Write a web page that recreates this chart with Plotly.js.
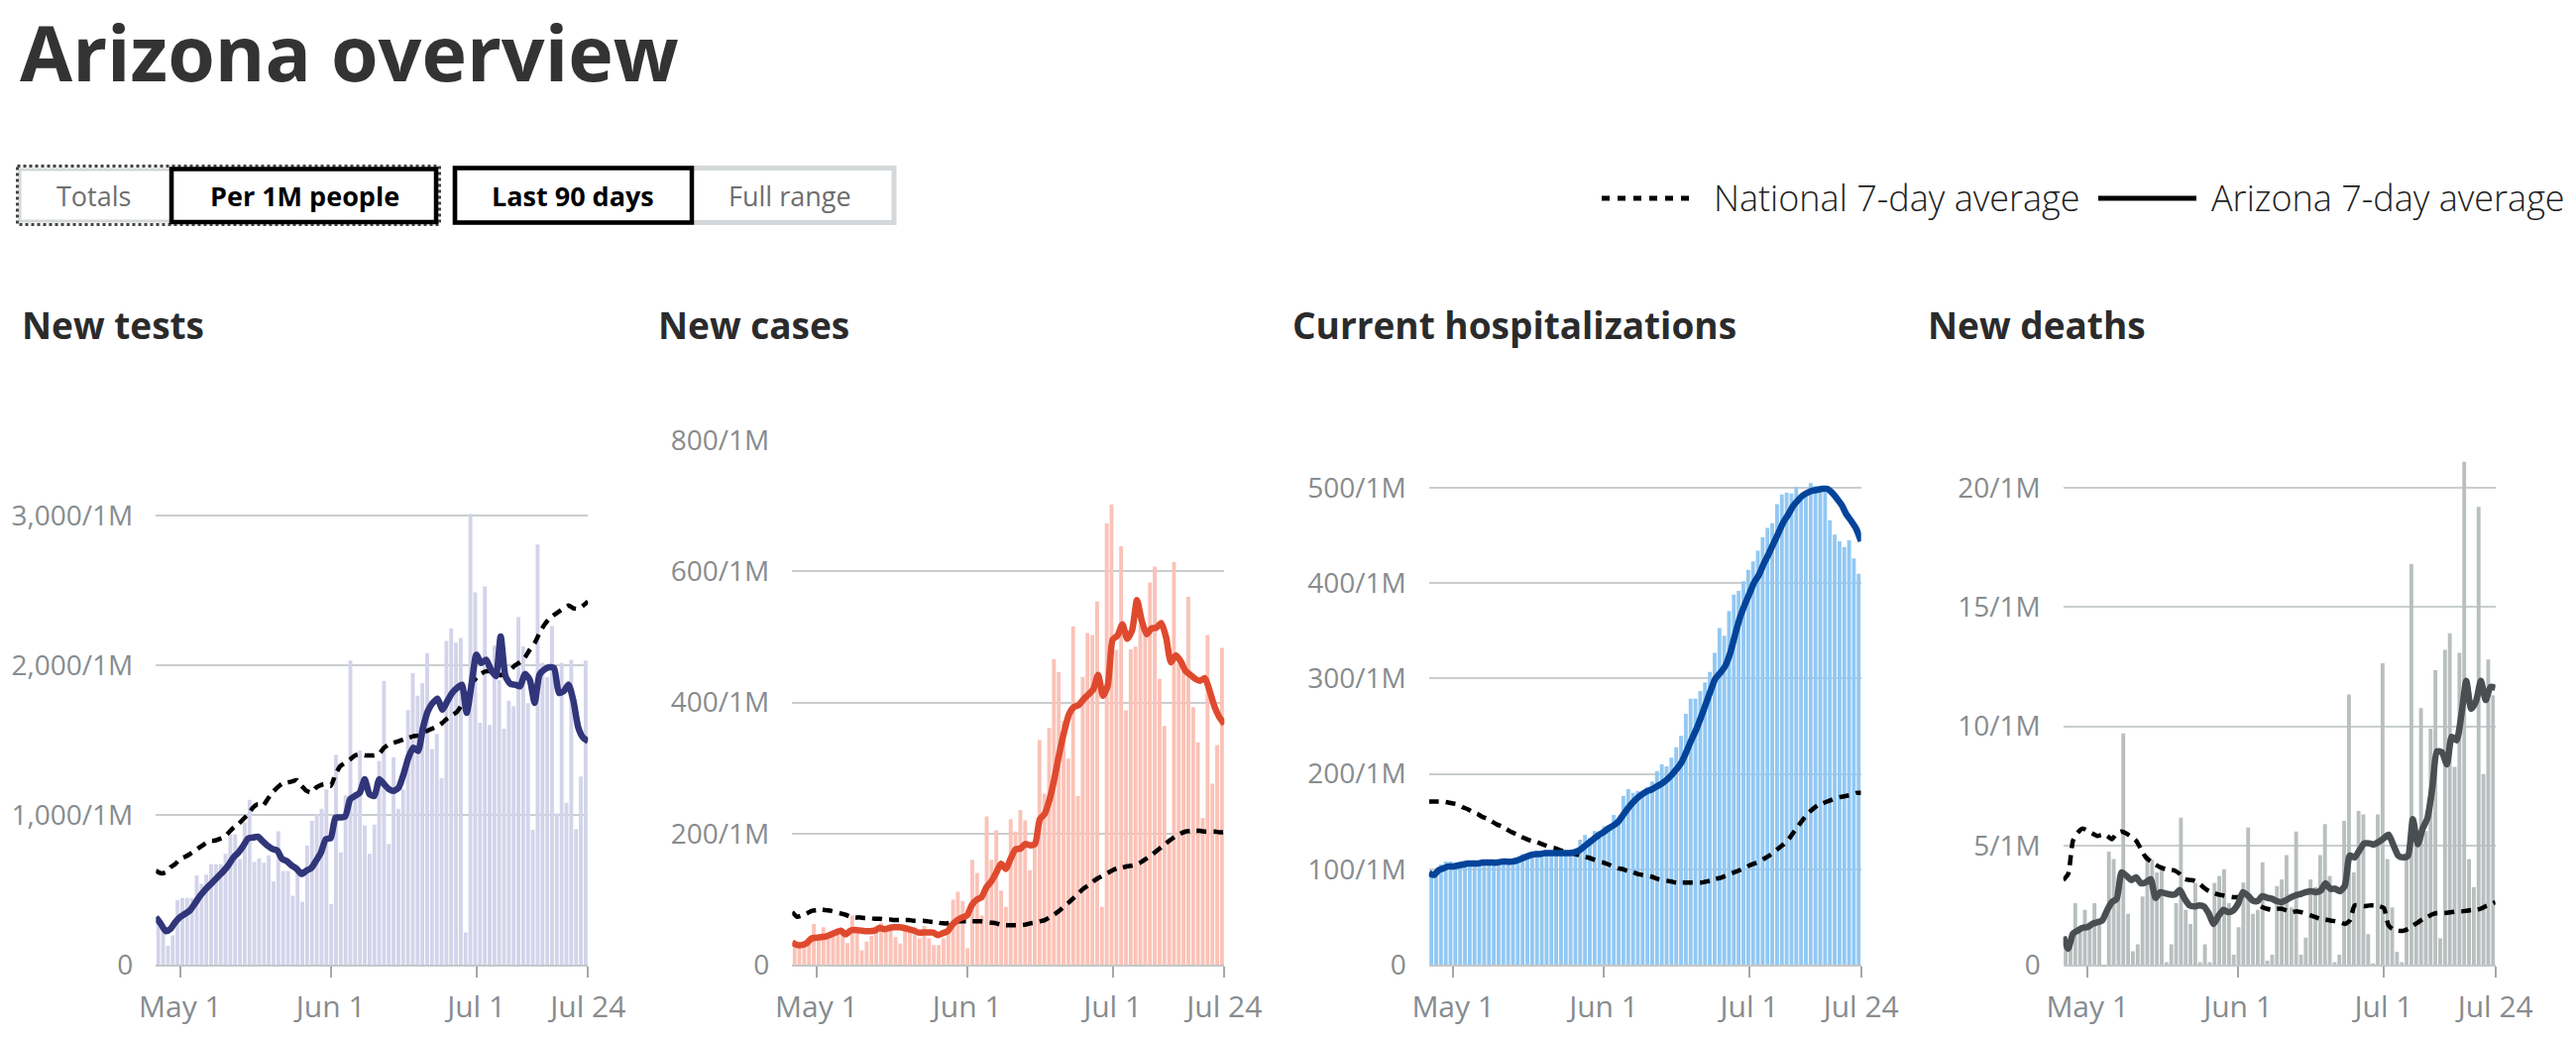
<!DOCTYPE html>
<html>
<head>
<meta charset="utf-8">
<script src="https://cdn.plot.ly/plotly-3.0.1.min.js"></script>
<style>
  html, body { margin: 0; padding: 0; background: #ffffff; }
  #chart { width: 2599px; height: 1046px; }
</style>
</head>
<body>
<div id="chart"></div>
<script>
// ---------- data ----------
const startDate = '2020-04-26';
const endDate = '2020-07-24';
const dayCount = 90;

const chartTitles = ['New tests', 'New cases', 'Current hospitalizations', 'New deaths'];

const xTickVals = ['2020-05-01', '2020-06-01', '2020-07-01', '2020-07-24'];
const xTickText = ['May 1', 'Jun 1', 'Jul 1', 'Jul 24'];

const testsTickVals = [0, 1000, 2000, 3000];
const testsTickText = ['0', '1,000/1M', '2,000/1M', '3,000/1M'];
const casesTickVals = [0, 200, 400, 600, 800];
const casesTickText = ['0', '200/1M', '400/1M', '600/1M', '800/1M'];
const hospTickVals = [0, 100, 200, 300, 400, 500];
const hospTickText = ['0', '100/1M', '200/1M', '300/1M', '400/1M', '500/1M'];
const deathsTickVals = [0, 5, 10, 15, 20];
const deathsTickText = ['0', '5/1M', '10/1M', '15/1M', '20/1M'];

const testsBars = [310, 230, 125, 195, 430, 445, 445, 445, 595, 540,
  600, 670, 670, 670, 740, 870, 870, 705, 950, 1100,
  685, 710, 680, 730, 555, 890, 625, 625, 460, 630,
  420, 795, 960, 1005, 1040, 1170, 405, 1400, 750, 1130,
  2030, 1150, 1430, 930, 740, 935, 1360, 1895, 805, 1385,
  1040, 1170, 1700, 1945, 1795, 1880, 2080, 1440, 1540, 1245,
  2160, 2245, 2150, 2180, 215, 3010, 2485, 1615, 2525, 1600,
  2130, 1900, 1575, 1760, 1725, 2320, 2125, 1745, 900, 2805,
  2015, 1920, 2260, 1010, 2015, 1080, 2035, 905, 1255, 2030];
const testsAZ = [317, 273, 224, 239, 284, 317, 339, 361, 406, 455,
  494, 528, 561, 594, 627, 667, 716, 749, 794, 843,
  849, 854, 823, 794, 772, 761, 705, 690, 661, 639,
  605, 627, 645, 694, 749, 838, 845, 982, 982, 990,
  1104, 1126, 1149, 1237, 1137, 1126, 1237, 1204, 1171, 1160,
  1182, 1271, 1381, 1448, 1426, 1581, 1692, 1747, 1776, 1703,
  1758, 1814, 1847, 1869, 1681, 1869, 2069, 2013, 2035, 1969,
  1925, 2191, 1925, 1874, 1869, 1858, 1940, 1902, 1747, 1936,
  1969, 1985, 1980, 1814, 1825, 1869, 1758, 1581, 1514, 1492];
const testsUS = [627, 610, 616, 650, 672, 705, 720, 738, 760, 783,
  805, 827, 827, 838, 849, 882, 915, 938, 971, 1004,
  1049, 1071, 1060, 1104, 1149, 1182, 1208, 1215, 1222, 1231,
  1193, 1160, 1149, 1182, 1199, 1204, 1193, 1271, 1326, 1348,
  1370, 1397, 1404, 1397, 1397, 1397, 1408, 1448, 1470, 1481,
  1492, 1503, 1514, 1525, 1530, 1548, 1563, 1577, 1592, 1614,
  1643, 1665, 1687, 1736, 1814, 1880, 1914, 1942, 1958, 1958,
  1947, 1931, 1953, 1969, 1998, 2020, 2051, 2102, 2146, 2213,
  2268, 2308, 2335, 2357, 2379, 2397, 2379, 2375, 2397, 2424];

const casesBars = [32, 29, 30, 36, 62, 40, 57, 45, 47, 50,
  53, 33, 75, 50, 22, 35, 44, 50, 64, 58,
  55, 42, 32, 53, 50, 46, 40, 59, 40, 30,
  30, 40, 62, 99, 111, 97, 25, 160, 140, 75,
  226, 160, 205, 113, 88, 222, 203, 236, 220, 144,
  184, 343, 261, 361, 466, 446, 372, 314, 516, 257,
  439, 506, 503, 554, 88, 673, 702, 480, 638, 388,
  481, 485, 518, 510, 583, 607, 436, 364, 193, 614,
  470, 450, 561, 393, 339, 224, 503, 276, 335, 483];
const casesAZ = [34, 30, 30, 33, 40, 41, 42, 43, 46, 49,
  52, 46, 52, 53, 52, 51, 51, 52, 56, 54,
  56, 57, 57, 56, 54, 52, 49, 49, 49, 49,
  45, 48, 51, 61, 68, 72, 75, 91, 99, 103,
  118, 127, 140, 154, 146, 162, 176, 177, 184, 182,
  184, 222, 230, 252, 284, 322, 355, 382, 393, 396,
  405, 412, 420, 442, 410, 426, 496, 502, 519, 497,
  510, 556, 524, 504, 513, 514, 521, 499, 461, 472,
  463, 448, 442, 436, 433, 437, 417, 393, 377, 367];
const casesUS = [80, 73, 75, 78, 82, 83, 84, 83, 82, 80,
  78, 76, 73, 72, 72, 71, 71, 70, 70, 69,
  69, 68, 68, 68, 68, 67, 67, 67, 66, 65,
  64, 63, 63, 65, 66, 66, 66, 66, 66, 66,
  65, 64, 63, 61, 60, 60, 60, 60, 61, 63,
  64, 66, 68, 72, 77, 82, 89, 95, 102, 109,
  116, 121, 127, 132, 136, 140, 144, 147, 148, 150,
  151, 153, 157, 162, 167, 173, 179, 185, 191, 196,
  200, 203, 204, 204, 204, 203, 203, 203, 202, 202];

const hospBars = [96, 98, 105, 108, 108, 105, 106, 107, 108, 108,
  108, 110, 109, 109, 108, 110, 108, 110, 112, 116,
  114, 116, 118, 117, 118, 117, 117, 117, 117, 117,
  119, 131, 136, 133, 140, 140, 145, 145, 157, 154,
  177, 184, 180, 182, 180, 186, 192, 203, 210, 208,
  217, 228, 240, 263, 279, 279, 287, 296, 307, 327,
  353, 345, 371, 388, 392, 402, 414, 423, 434, 448,
  458, 463, 483, 493, 495, 494, 501, 492, 494, 505,
  502, 500, 499, 466, 451, 444, 438, 445, 426, 410];
const hospAZ = [96, 94, 99, 101, 103, 103, 104, 105, 106, 106,
  106, 107, 107, 107, 107, 108, 108, 108, 109, 111,
  113, 115, 116, 116, 117, 117, 117, 117, 117, 117,
  118, 120, 124, 128, 132, 136, 139, 143, 146, 150,
  157, 164, 170, 175, 179, 182, 184, 187, 190, 194,
  199, 205, 212, 223, 235, 246, 259, 273, 287, 300,
  306, 313, 326, 345, 363, 377, 389, 401, 409, 421,
  431, 442, 453, 464, 472, 481, 487, 492, 495, 497,
  498, 499, 499, 495, 489, 482, 472, 465, 457, 444];
const hospUS = [171, 171, 171, 171, 170, 169, 168, 165, 163, 160,
  158, 155, 153, 150, 147, 145, 142, 139, 137, 134,
  132, 130, 129, 127, 125, 123, 122, 120, 119, 118,
  116, 115, 113, 112, 110, 108, 107, 105, 103, 101,
  100, 98, 97, 95, 94, 93, 92, 90, 89, 88,
  87, 86, 86, 86, 86, 86, 86, 87, 88, 90,
  91, 93, 95, 97, 99, 101, 104, 106, 108, 111,
  114, 118, 122, 126, 131, 138, 145, 152, 158, 163,
  167, 169, 171, 173, 175, 176, 177, 178, 180, 180];

const deathsBars = [1.2, 0.9, 2.58, 1.5, 2.3, 1.7, 2.58, 1.9, 0, 4.74,
  4.43, 3.5, 9.7, 2.13, 0.56, 0.85, 2.86, 4.6, 4.4, 3.87,
  3.97, 0.1, 0.85, 2.58, 6.17, 2.3, 1.7, 3.43, 0.1, 0.85,
  0.1, 3.43, 3.72, 4.0, 2.58, 0.42, 1.57, 3.44, 5.75, 2.13,
  2.3, 4.29, 0.17, 0.42, 3.3, 3.58, 4.6, 2.4, 5.58, 0.42,
  1.13, 3.58, 3.25, 4.6, 5.9, 3.72, 0.1, 0.42, 6.03, 11.33,
  3.87, 6.45, 6.3, 1.28, 0.05, 6.3, 12.64, 4.43, 2.4, 0.54,
  0.1, 4.6, 16.8, 5.0, 10.76, 5.6, 9.9, 12.35, 1.1, 13.2,
  13.9, 8.3, 13.08, 21.1, 4.43, 3.25, 19.2, 8.0, 12.8, 11.3];
const deathsAZ = [1.16, 0.67, 1.3, 1.43, 1.55, 1.57, 1.71, 1.78, 1.85, 2.27,
  2.62, 2.76, 3.87, 3.73, 3.55, 3.66, 3.41, 3.45, 3.59, 2.8,
  3.04, 2.99, 2.94, 2.94, 3.13, 2.76, 2.48, 2.44, 2.48, 2.44,
  2.13, 1.71, 2.06, 2.3, 2.2, 2.27, 2.55, 3.04, 2.9, 2.69,
  2.66, 2.87, 2.8, 2.76, 2.66, 2.62, 2.72, 2.83, 2.92, 2.97,
  3.04, 3.08, 3.04, 3.1, 3.41, 3.18, 3.18, 3.08, 3.31, 4.57,
  4.5, 4.8, 5.09, 5.09, 5.04, 5.16, 5.3, 5.45, 5.01, 4.57,
  4.5, 4.57, 6.1, 5.05, 5.7, 6.15, 7.4, 8.95, 8.9, 8.4,
  9.56, 9.41, 10.5, 11.9, 10.73, 11.05, 11.9, 11.1, 11.65, 11.61];
const deathsUS = [3.55, 3.8, 5.2, 5.54, 5.71, 5.61, 5.5, 5.4, 5.45, 5.4,
  5.26, 5.5, 5.58, 5.5, 5.36, 5.2, 4.85, 4.5, 4.33, 4.19,
  4.08, 4.01, 3.98, 3.94, 3.8, 3.59, 3.55, 3.52, 3.41, 3.22,
  3.08, 3.01, 2.94, 2.9, 2.86, 2.83, 2.83, 2.92, 2.9, 2.72,
  2.55, 2.41, 2.34, 2.3, 2.34, 2.34, 2.27, 2.2, 2.24, 2.2,
  2.13, 2.06, 1.99, 1.92, 1.89, 1.85, 1.82, 1.78, 1.71, 1.85,
  2.48, 2.48, 2.45, 2.48, 2.48, 2.45, 2.38, 1.64, 1.47, 1.42,
  1.42, 1.5, 1.64, 1.76, 1.91, 2.0, 2.11, 2.16, 2.16, 2.17,
  2.2, 2.23, 2.23, 2.26, 2.29, 2.29, 2.35, 2.45, 2.52, 2.62];

const legendLabels = ['National 7-day average', 'Arizona 7-day average'];
const buttonLabels = ['Totals', 'Per 1M people', 'Last 90 days', 'Full range'];

// ---------- build ----------
const dates = [];
{
  const d0 = new Date(startDate + 'T00:00:00Z');
  for (let i = 0; i < dayCount; i++) {
    const d = new Date(d0.getTime() + i * 86400000);
    dates.push(d.toISOString().slice(0, 10));
  }
}

const W = 2599, H = 1046;
const px = v => v / W;
const py = v => 1 - v / H;
const FONT = '"Open Sans", "Noto Sans", sans-serif';

const charts = [
  { bars: testsBars, az: testsAZ, us: testsUS, barColor: '#d3d4ea', lineColor: '#31357a',
    yTop: 3501, tv: testsTickVals, tt: testsTickText },
  { bars: casesBars, az: casesAZ, us: casesUS, barColor: '#fbc2b7', lineColor: '#df4a2e',
    yTop: 800, tv: casesTickVals, tt: casesTickText },
  { bars: hospBars, az: hospAZ, us: hospUS, barColor: '#92c8f3', lineColor: '#03449a',
    yTop: 550, tv: hospTickVals, tt: hospTickText },
  { bars: deathsBars, az: deathsAZ, us: deathsUS, barColor: '#b9bfbf', lineColor: '#4a4e50',
    yTop: 22.0, tv: deathsTickVals, tt: deathsTickText }
];
const plotLefts = [157.3, 799.3, 1441.7, 2081.7];
const plotWidth = 436;
const plotTopPx = 444, plotBottomPx = 973;
const titleLefts = [20, 662, 1302, 1943];

const suf = n => (n === 1 ? '' : String(n));
const yTickFont = { family: FONT, size: 28, color: '#878c8f' };
const xTickFont = { family: FONT, size: 30, color: '#878c8f' };

const data = [];
const layout = {
  width: W, height: H,
  margin: { l: 0, r: 0, t: 0, b: 0, pad: 0 },
  paper_bgcolor: '#ffffff', plot_bgcolor: 'rgba(0,0,0,0)',
  showlegend: false, hovermode: false,
  bargap: 0.2,
  font: { family: FONT },
  annotations: [], shapes: []
};

charts.forEach((c, k) => {
  const bx = 2 * k + 1, lx = 2 * k + 2, yy = k + 1;
  layout['xaxis' + suf(bx)] = {
    domain: [px(plotLefts[k]), px(plotLefts[k] + plotWidth)],
    anchor: 'y' + suf(yy), type: 'category', range: [-0.5, dayCount - 0.5],
    showgrid: false, showticklabels: false, ticks: '', zeroline: false, showline: false, fixedrange: true
  };
  layout['xaxis' + suf(lx)] = {
    overlaying: 'x' + suf(bx), anchor: 'y' + suf(yy), type: 'date', side: 'bottom',
    range: [startDate, endDate], tickmode: 'array', tickvals: xTickVals, ticktext: xTickText,
    ticks: 'outside', ticklen: 11, tickwidth: 2, tickcolor: '#a3a8ab',
    showline: true, linecolor: '#c3c7c9', linewidth: 2,
    showgrid: false, zeroline: false, tickfont: xTickFont, ticklabelstandoff: 4, fixedrange: true
  };
  layout['yaxis' + suf(yy)] = {
    domain: [py(plotBottomPx), py(plotTopPx)], anchor: 'x' + suf(bx),
    range: [0, c.yTop], tickmode: 'array', tickvals: c.tv, ticktext: c.tt,
    showgrid: true, gridcolor: '#c9cdcf', gridwidth: 2, zeroline: false, showline: false,
    ticks: '', tickfont: yTickFont, ticklabelstandoff: 22, fixedrange: true
  };
  data.push({
    type: 'bar', x: dates, y: c.bars, xaxis: 'x' + suf(bx), yaxis: 'y' + suf(yy),
    marker: { color: c.barColor, line: { width: 0 } }, hoverinfo: 'skip'
  });
  data.push({
    type: 'scatter', mode: 'lines', x: dates, y: c.us, xaxis: 'x' + suf(lx), yaxis: 'y' + suf(yy),
    line: { color: '#000000', width: 4.5, dash: '10px,7px', shape: 'spline', smoothing: 0.6 }, hoverinfo: 'skip'
  });
  data.push({
    type: 'scatter', mode: 'lines', x: dates, y: c.az, xaxis: 'x' + suf(lx), yaxis: 'y' + suf(yy),
    line: { color: c.lineColor, width: 6.5, shape: 'spline', smoothing: 0.6 }, hoverinfo: 'skip'
  });
  layout.annotations.push({
    text: chartTitles[k], xref: 'paper', yref: 'paper', x: px(titleLefts[k]), y: py(327),
    xanchor: 'left', yanchor: 'middle', showarrow: false,
    font: { family: FONT, size: 37, weight: 700, color: '#2b2b2b' }
  });
});

// page title
layout.annotations.push({
  text: 'Arizona overview', xref: 'paper', yref: 'paper', x: px(18), y: py(53),
  xanchor: 'left', yanchor: 'middle', showarrow: false,
  font: { family: FONT, size: 77, weight: 700, color: '#333333' }
});

// buttons
const btnCenters = [94, 307, 578, 797];
const btnBold = [false, true, true, false];
buttonLabels.forEach((t, i) => {
  layout.annotations.push({
    text: t, xref: 'paper', yref: 'paper', x: px(btnCenters[i]), y: py(197),
    xanchor: 'center', yanchor: 'middle', showarrow: false,
    font: { family: FONT, size: 27, weight: btnBold[i] ? 700 : 400, color: btnBold[i] ? '#000000' : '#6e6e6e' }
  });
});
const rect = (x0, y0, x1, y1, color, width, dash) => ({
  type: 'rect', xref: 'paper', yref: 'paper', x0: px(x0), x1: px(x1), y0: py(y0), y1: py(y1),
  line: { color: color, width: width, dash: dash || 'solid' }, fillcolor: 'rgba(0,0,0,0)', layer: 'above'
});
layout.shapes.push(rect(20, 171, 174, 223, '#d4d8da', 3));
layout.shapes.push(rect(17.5, 167.5, 443.5, 226.5, '#444444', 3, 'dot'));
layout.shapes.push(rect(173, 170.5, 440, 224, '#000000', 4.5));
layout.shapes.push(rect(459, 169.5, 902, 224.5, '#d4d8da', 5));
layout.shapes.push(rect(459, 169.5, 698, 224.5, '#000000', 4.5));

// legend
layout.shapes.push({
  type: 'line', xref: 'paper', yref: 'paper', x0: px(1616), x1: px(1712), y0: py(200), y1: py(200),
  line: { color: '#000000', width: 5, dash: '8px,8px' }
});
layout.shapes.push({
  type: 'line', xref: 'paper', yref: 'paper', x0: px(2117), x1: px(2216), y0: py(200), y1: py(200),
  line: { color: '#000000', width: 5 }
});
[1727, 2229].forEach((x, i) => {
  layout.annotations.push({
    text: legendLabels[i], xref: 'paper', yref: 'paper', x: px(x), y: py(200),
    xanchor: 'left', yanchor: 'middle', showarrow: false,
    font: { family: FONT, size: 36, weight: 300, color: '#222222' }
  });
});

Plotly.newPlot('chart', data, layout, { staticPlot: true, displayModeBar: false });
</script>
</body>
</html>
